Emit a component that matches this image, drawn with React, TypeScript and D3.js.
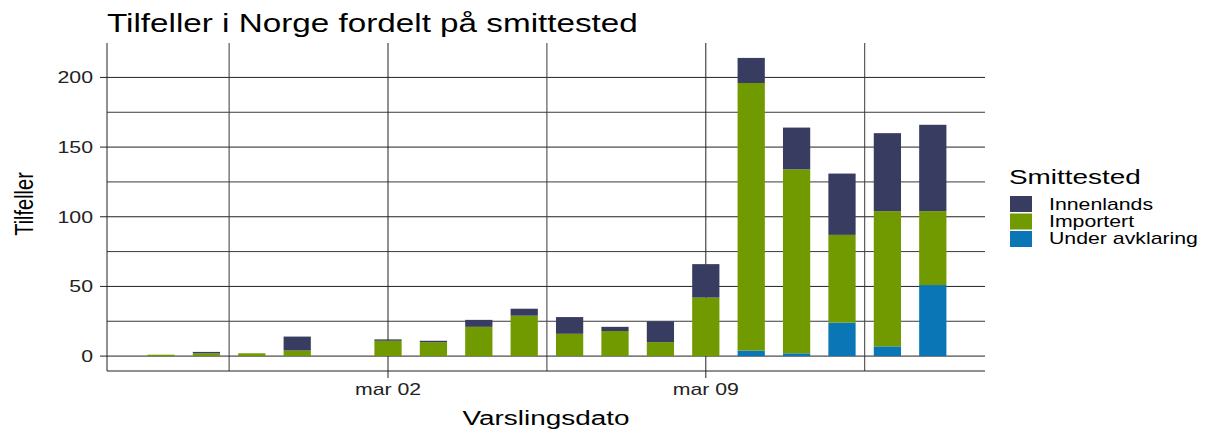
import React from "react";
import * as d3 from "d3";

const dates = [
  "2020-02-26", "2020-02-27", "2020-02-28", "2020-02-29", "2020-03-01",
  "2020-03-02", "2020-03-03", "2020-03-04", "2020-03-05", "2020-03-06",
  "2020-03-07", "2020-03-08", "2020-03-09", "2020-03-10", "2020-03-11",
  "2020-03-12", "2020-03-13", "2020-03-14",
];
const underAvklaring = [0, 0, 0, 0, 0, 0, 0, 0, 0, 0, 0, 0, 0, 4, 2, 24, 7, 51];
const importert = [1, 2, 2, 4, 0, 11, 10, 21, 29, 16, 18, 10, 42, 192, 132, 63, 97, 53];
const innenlands = [0, 1, 0, 10, 0, 1, 1, 5, 5, 12, 3, 15, 24, 18, 30, 44, 56, 62];

const seriesKeys = ["Under avklaring", "Importert", "Innenlands"];
const legendOrder = ["Innenlands", "Importert", "Under avklaring"];
const colors: Record<string, string> = {
  Innenlands: "#393c61",
  Importert: "#709a00",
  "Under avklaring": "#0b76b6",
};
const yTicks = [0, 50, 100, 150, 200];
const yMinor = [25, 75, 125, 175];
const xMajor = ["2020-03-02", "2020-03-09"];
const xMinor = ["2020-02-27T12:00", "2020-03-05T12:00", "2020-03-12T12:00"];
const xLabels = ["mar 02", "mar 09"];

const W = 1209, H = 430;
const L = 107, R = 985, T = 43, B = 371;
const DAY = 86400000;
const SX = 1.33;
const parse = (s: string) => new Date(s.length > 10 ? s + ":00" : s + "T00:00:00");

function SText(props: { x: number; y: number; size: number; anchor?: string; rotate?: boolean; fill?: string; children: React.ReactNode }) {
  const { x, y, size, anchor = "start", rotate = false, fill = "#000", children } = props;
  return (
    <text
      transform={`translate(${x},${y}) scale(${SX},1)${rotate ? " rotate(-90)" : ""}`}
      textAnchor={anchor}
      fontSize={size}
      fill={fill}
    >
      {children}
    </text>
  );
}

export default function App() {
  const rows = dates.map((d, i) => ({
    date: parse(d),
    "Under avklaring": underAvklaring[i],
    Importert: importert[i],
    Innenlands: innenlands[i],
  }));
  const stacked = d3.stack<any>().keys(seriesKeys)(rows);
  const maxV = d3.max(rows, (r) => r["Under avklaring"] + r.Importert + r.Innenlands) as number;
  const pad = maxV * 0.05;
  const y = d3.scaleLinear().domain([-pad, maxV + pad]).range([B, T]);
  const ref = parse("2020-03-02").getTime();
  const x = d3.scaleTime()
    .domain([new Date(ref - 6.19 * DAY), new Date(ref + 13.15 * DAY)])
    .range([L, R]);
  const bw = x(new Date(ref + 0.6 * DAY)) - x(new Date(ref));
  const font = "'Liberation Sans', Arial, sans-serif";

  return (
    <svg width={W} height={H} style={{ position: "absolute", left: 0, top: 0, background: "#fff" }} fontFamily={font}>
      <SText x={107} y={31.5} size={25}>Tilfeller i Norge fordelt på smittested</SText>
      {/* grid */}
      {yMinor.map((v) => (
        <line key={"ym" + v} x1={L} x2={R} y1={y(v)} y2={y(v)} stroke="#3a3a3a" strokeWidth={1} />
      ))}
      {yTicks.map((v) => (
        <line key={"y" + v} x1={L} x2={R} y1={y(v)} y2={y(v)} stroke="#222" strokeWidth={1} />
      ))}
      {xMinor.map((d) => (
        <line key={"xm" + d} x1={x(parse(d))} x2={x(parse(d))} y1={T} y2={B} stroke="#3a3a3a" strokeWidth={1} />
      ))}
      {xMajor.map((d) => (
        <line key={"x" + d} x1={x(parse(d))} x2={x(parse(d))} y1={T} y2={B} stroke="#222" strokeWidth={1} />
      ))}
      {/* bars */}
      {stacked.map((s) => (
        <g key={s.key} fill={colors[s.key]}>
          {s.map((p, i) =>
            p[1] - p[0] > 0 ? (
              <rect key={i} x={x(rows[i].date) - bw / 2} width={bw} y={y(p[1])} height={y(p[0]) - y(p[1])} />
            ) : null
          )}
        </g>
      ))}
      {/* axes */}
      <line x1={L} x2={L} y1={T} y2={B} stroke="#222" />
      <line x1={L} x2={R} y1={B} y2={B} stroke="#222" />
      {yTicks.map((v) => (
        <g key={"yt" + v}>
          <line x1={L - 7} x2={L} y1={y(v)} y2={y(v)} stroke="#222" />
          <SText x={L - 14} y={y(v) + 6} size={16} anchor="end" fill="#222">{v}</SText>
        </g>
      ))}
      {xMajor.map((d, i) => (
        <g key={"xt" + d}>
          <line x1={x(parse(d))} x2={x(parse(d))} y1={B} y2={B + 7} stroke="#222" />
          <SText x={x(parse(d))} y={395} size={16} anchor="middle" fill="#222">{xLabels[i]}</SText>
        </g>
      ))}
      <SText x={(L + R) / 2} y={425} size={21} anchor="middle">Varslingsdato</SText>
      <SText x={33} y={204} size={20} anchor="middle" rotate>Tilfeller</SText>
      {/* legend */}
      <SText x={1009} y={184} size={21}>Smittested</SText>
      {legendOrder.map((k, i) => (
        <g key={k}>
          <rect x={1010} y={196 + i * 17.5} width={22} height={16} fill={colors[k]} />
          <SText x={1049} y={210 + i * 17} size={16}>{k}</SText>
        </g>
      ))}
    </svg>
  );
}
